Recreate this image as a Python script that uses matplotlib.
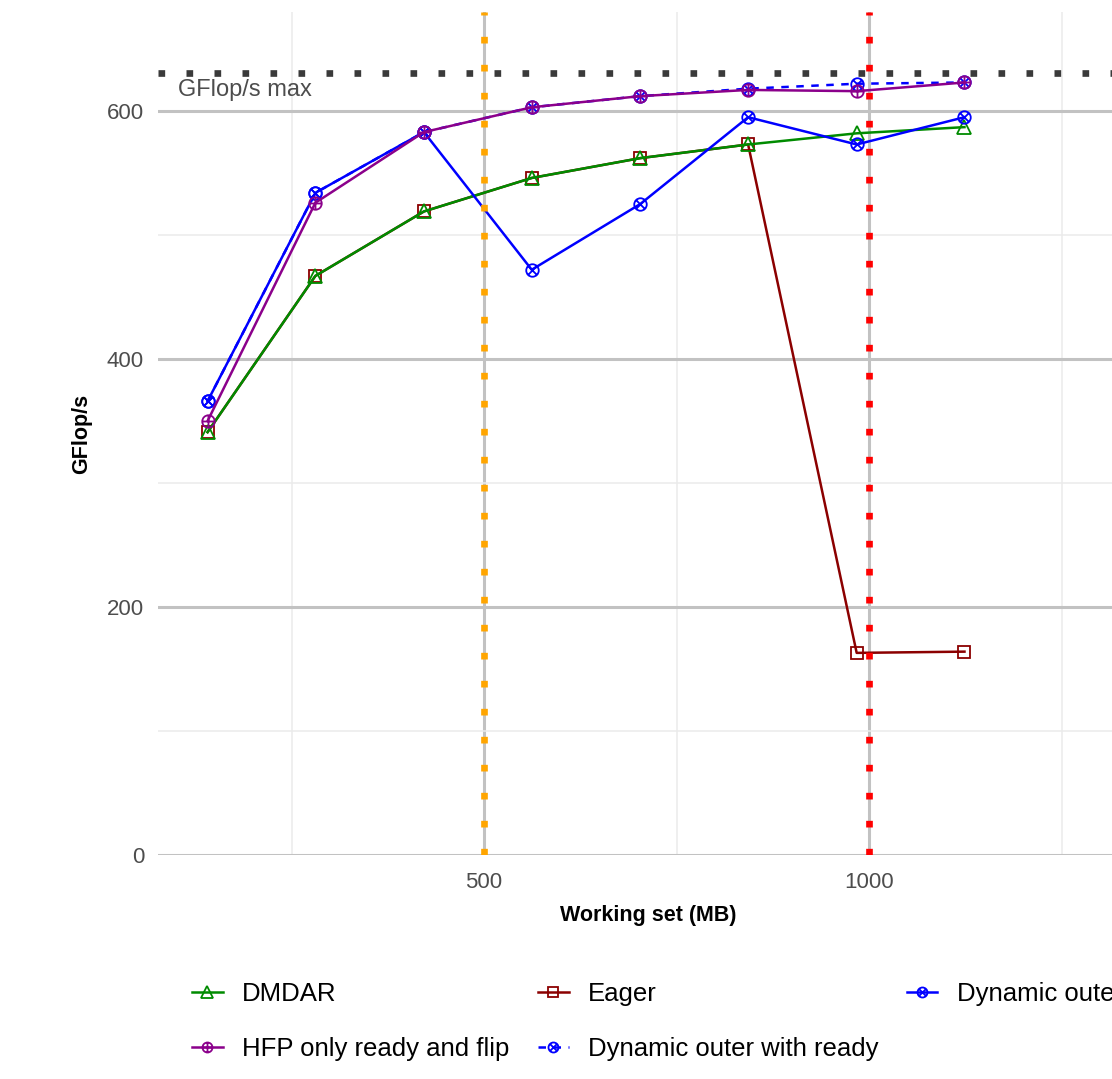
import numpy as np
import matplotlib.pyplot as plt
from matplotlib.path import Path

plt.rcParams['font.family'] = ['Liberation Sans', 'DejaVu Sans']

# working set sizes (MB) and measured GFlop/s per scheduler
working_set = [141, 281, 422, 562, 703, 843, 984, 1124]
dmdar = [341, 467, 519, 546, 562, 573, 582, 587]
eager = [341, 467, 519, 546, 562, 573, 163, 164]
dynamic_outer = [366, 534, 583, 472, 525, 595, 573, 595]
dynamic_outer_ready = [366, 534, 583, 603, 612, 618, 622, 623]
hfp_ready_flip = [350, 526, 583, 603, 612, 617, 616, 623]

gflops_max = 630.5
gpu_memory_lines = [500, 1000]
gpu_memory_colors = ['#FFA500', '#FF0000']


def circle_with(lines):
    circle = Path.unit_circle()
    parts = [circle] + [Path(seg, [Path.MOVETO, Path.LINETO]) for seg in lines]
    return Path.make_compound_path(*parts)


d = 0.7071
circle_x = circle_with([[(-d, -d), (d, d)], [(-d, d), (d, -d)]])
circle_plus = circle_with([[(-1, 0), (1, 0)], [(0, -1), (0, 1)]])

fig = plt.figure(figsize=(11.12, 10.79), dpi=100)
ax = fig.add_axes([158 / 1112, 224 / 1079, (1138 - 158) / 1112, (855 - 12) / 1079])

x_per_px = 500 / 385
ax.set_xlim((158 - 99) * x_per_px, (1138 - 99) * x_per_px)
ax.set_ylim(0, (855 - 12) / 1.24)

ax.set_xticks([500, 1000])
ax.set_xticks([250, 750, 1250], minor=True)
ax.set_yticks([0, 200, 400, 600])
ax.set_yticks([100, 300, 500], minor=True)
ax.grid(which='major', color='#c2c2c2', linewidth=2.2, zorder=0)
ax.grid(which='minor', color='#ebebeb', linewidth=1.1, zorder=0)
ax.set_axisbelow(True)
for side in ax.spines.values():
    side.set_visible(False)
ax.tick_params(which='both', length=0, labelsize=16, labelcolor='#4d4d4d')
ax.tick_params(axis='y', pad=10)
ax.tick_params(axis='x', pad=12)

ax.set_xlabel('Working set (MB)', fontsize=15.5, fontweight='bold', labelpad=9)
ax.set_ylabel('GFlop/s', fontsize=15.5, fontweight='bold', labelpad=11)

common = dict(linewidth=1.8, markersize=9, markeredgewidth=1.3,
              markerfacecolor='none', zorder=3, clip_on=False)
l_eager, = ax.plot(working_set, eager, color='#8B0000', marker='s', label='Eager', **common)
l_dmdar, = ax.plot(working_set, dmdar, color='#008B00', marker='^', label='DMDAR',
                   **{**common, 'markersize': 10.5})
l_dyn, = ax.plot(working_set, dynamic_outer, color='#0000FF', marker=circle_x,
                 label='Dynamic outer', **common)
l_dynr, = ax.plot(working_set, dynamic_outer_ready, color='#0000FF', marker=circle_x,
                  linestyle=(0, (3, 3)), label='Dynamic outer with ready', **common)
l_hfp, = ax.plot(working_set, hfp_ready_flip, color='#8B008B', marker=circle_plus,
                 label='HFP only ready and flip', **common)

# reference lines: peak GFlop/s and GPU memory sizes
ax.axhline(gflops_max, color='#3a3a3a', linewidth=4.8, linestyle=(0, (1, 3.2)),
           dash_capstyle='butt', zorder=4)
ax.text(103, 617, 'GFlop/s max', fontsize=17, color='#4d4d4d', ha='left', va='center')
for xv, col in zip(gpu_memory_lines, gpu_memory_colors):
    ax.axvline(xv, color=col, linewidth=4.8, linestyle=(0, (1, 3.2)),
               dash_capstyle='butt', zorder=4)

fig.legend(handles=[l_dmdar, l_hfp, l_eager, l_dynr, l_dyn], ncol=3,
           loc='upper left', bbox_to_anchor=(192 / 1112, 1 - 982 / 1079),
           frameon=False, fontsize=18.5, markerscale=0.8, handlelength=1.2,
           handletextpad=0.75, columnspacing=1.1, labelspacing=1.2,
           borderpad=0, borderaxespad=0)

fig.savefig('out.png', dpi=100)
